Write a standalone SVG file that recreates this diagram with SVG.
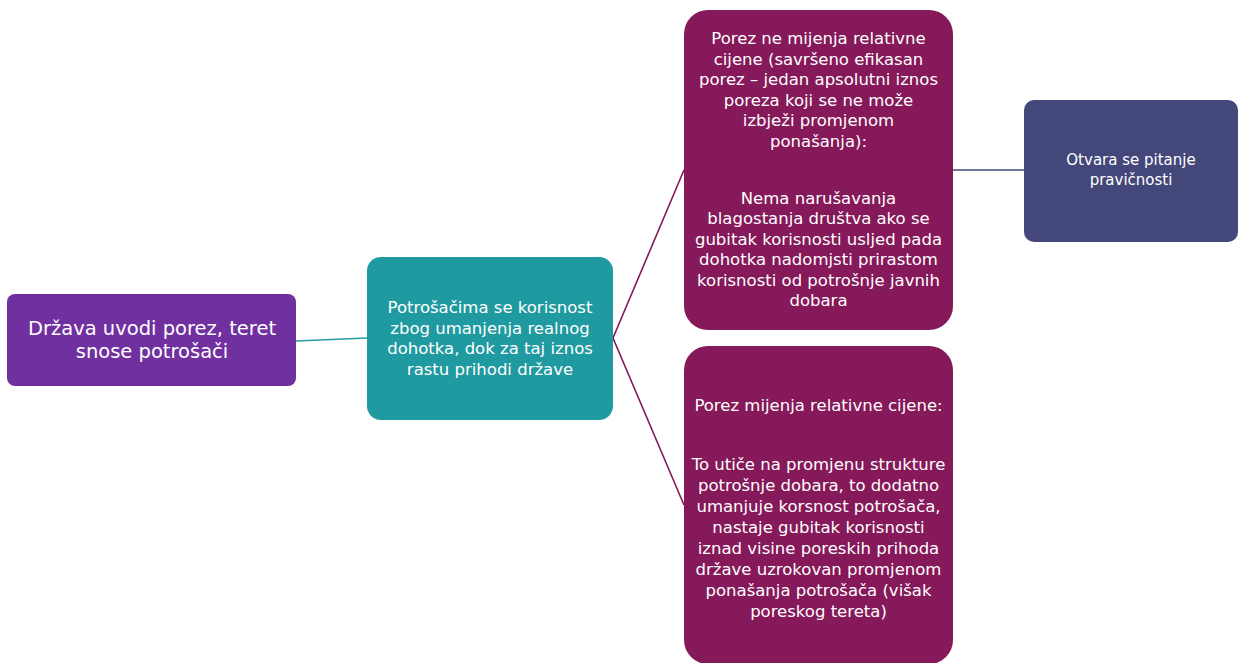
<svg xmlns="http://www.w3.org/2000/svg" width="1239" height="663" viewBox="0 0 1239 663">
<style>
text{font-family:"DejaVu Sans","Liberation Sans",sans-serif;fill:#ffffff;text-anchor:middle}
.t20{font-size:19.5px}
.t17{font-size:16.5px}
.t14{font-size:15px}
.conn{fill:none;stroke-width:1.6}
</style>
<rect width="1239" height="663" fill="#ffffff"/>
<g id="connectors">
<line class="conn" x1="296" y1="341" x2="367" y2="338" stroke="#2A9BA0"/>
<polyline class="conn" points="684,170 613,338 684,505" stroke="#86195A"/>
<line class="conn" x1="953" y1="170" x2="1024" y2="170" stroke="#434779"/>
</g>
<g id="n1">
<rect x="7" y="294" width="289" height="92" rx="8" fill="#7030A0"/>
<text class="t20" x="152" y="335">Država uvodi porez, teret</text>
<text class="t20" x="152" y="358">snose potrošači</text>
</g>
<g id="n2">
<rect x="367" y="257" width="246" height="163" rx="14" fill="#1F9AA0"/>
<text class="t17" x="490" y="313">Potrošačima se korisnost</text>
<text class="t17" x="490" y="333.5">zbog umanjenja realnog</text>
<text class="t17" x="490" y="354">dohotka, dok za taj iznos</text>
<text class="t17" x="490" y="374.5">rastu prihodi države</text>
</g>
<g id="n3">
<rect x="684" y="10" width="269" height="320" rx="24" fill="#86195A"/>
<text class="t17" x="818.5" y="44">Porez ne mijenja relativne</text>
<text class="t17" x="818.5" y="64.5">cijene (savršeno efikasan</text>
<text class="t17" x="818.5" y="85">porez – jedan apsolutni iznos</text>
<text class="t17" x="818.5" y="105.5">poreza koji se ne može</text>
<text class="t17" x="818.5" y="126">izbježi promjenom</text>
<text class="t17" x="818.5" y="146.5">ponašanja):</text>
<text class="t17" x="818.5" y="203.5">Nema narušavanja</text>
<text class="t17" x="818.5" y="224">blagostanja društva ako se</text>
<text class="t17" x="818.5" y="244.5">gubitak korisnosti usljed pada</text>
<text class="t17" x="818.5" y="265">dohotka nadomjsti prirastom</text>
<text class="t17" x="818.5" y="285.5">korisnosti od potrošnje javnih</text>
<text class="t17" x="818.5" y="306">dobara</text>
</g>
<g id="n4">
<rect x="684" y="346" width="269" height="318" rx="24" fill="#86195A"/>
<text class="t17" x="818.5" y="411">Porez mijenja relativne cijene:</text>
<text class="t17" x="818.5" y="470">To utiče na promjenu strukture</text>
<text class="t17" x="818.5" y="491">potrošnje dobara, to dodatno</text>
<text class="t17" x="818.5" y="512">umanjuje korsnost potrošača,</text>
<text class="t17" x="818.5" y="533">nastaje gubitak korisnosti</text>
<text class="t17" x="818.5" y="554">iznad visine poreskih prihoda</text>
<text class="t17" x="818.5" y="575">države uzrokovan promjenom</text>
<text class="t17" x="818.5" y="596">ponašanja potrošača (višak</text>
<text class="t17" x="818.5" y="617">poreskog tereta)</text>
</g>
<g id="n5">
<rect x="1024" y="100" width="214" height="142" rx="10" fill="#434779"/>
<text class="t14" x="1131" y="165">Otvara se pitanje</text>
<text class="t14" x="1131" y="185">pravičnosti</text>
</g>
</svg>
